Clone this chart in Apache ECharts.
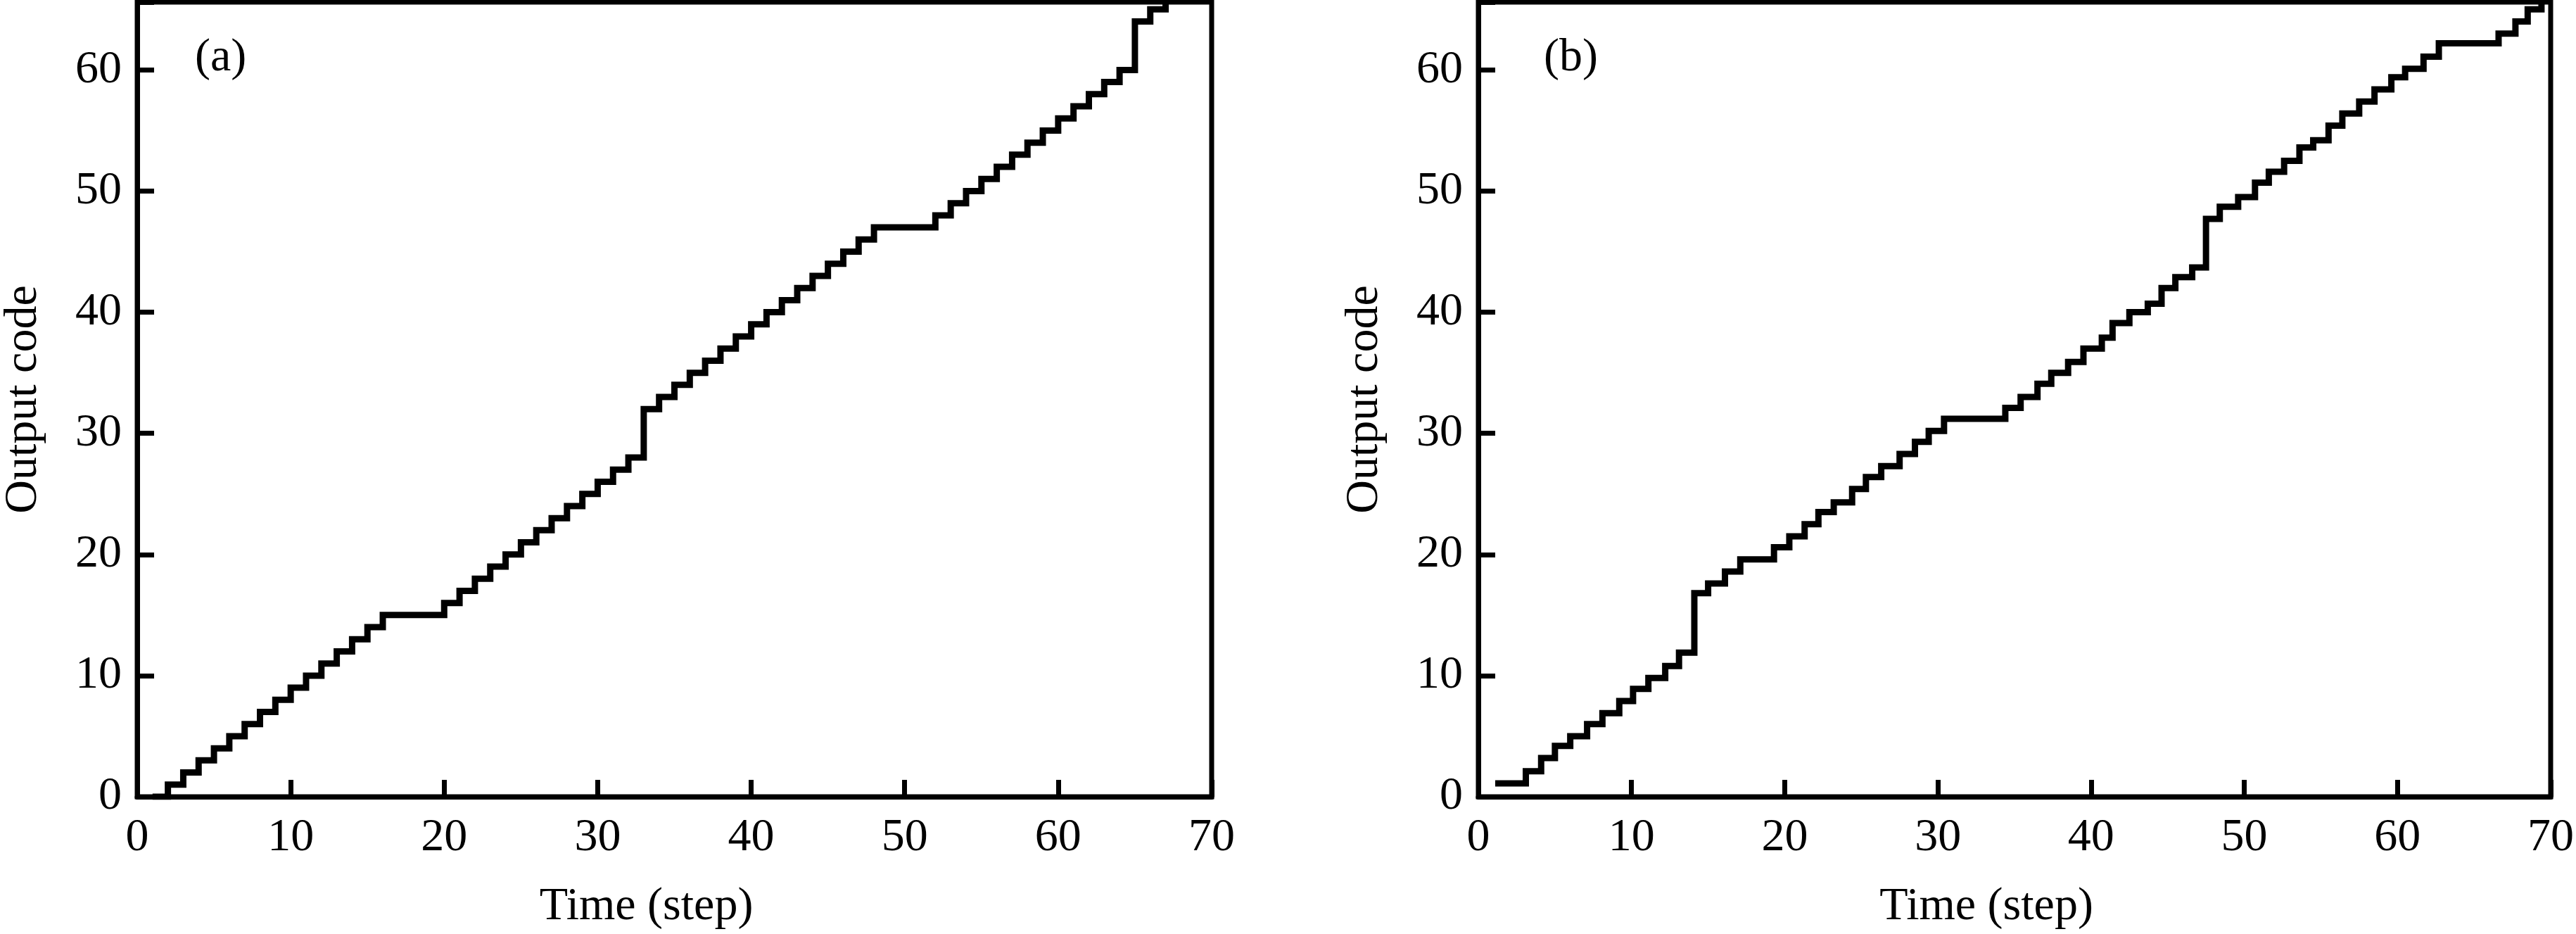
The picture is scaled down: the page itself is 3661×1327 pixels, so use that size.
<!DOCTYPE html>
<html>
<head>
<meta charset="utf-8">
<script src="https://cdn.jsdelivr.net/npm/echarts@6/dist/echarts.min.js"></script>
<style>
html,body{margin:0;padding:0;background:#ffffff;}
#chart{width:3661px;height:1327px;}
</style>
</head>
<body>
<div id="chart"></div>
<script>
// ---- data ----
const xTickValues = [0, 10, 20, 30, 40, 50, 60, 70];
const yTickValues = [0, 10, 20, 30, 40, 50, 60];
const panelNames = ['(a)', '(b)'];
const xAxisTitle = 'Time (step)';
const yAxisTitle = 'Output code';

// panel (a): time at which a new output code starts, and that code
const timeA = [1,2,3,4,5,6,7,8,9,10,11,12,13,14,15,16,
  20,21,22,23,24,25,26,27,28,29,30,31,32,
  33,34,35,36,37,38,39,40,41,42,43,44,45,46,47,48,
  52,53,54,55,56,57,58,59,60,61,62,63,64,
  65,66,67,68];
const codeA = [0,1,2,3,4,5,6,7,8,9,10,11,12,13,14,15,
  16,17,18,19,20,21,22,23,24,25,26,27,28,
  32,33,34,35,36,37,38,39,40,41,42,43,44,45,46,47,
  48,49,50,51,52,53,54,55,56,57,58,59,60,
  64,65,66,66];

// panel (b)
const timeB = [1.1,3.1,4.1,5.0,6.0,7.1,8.1,9.2,10.1,11.1,12.2,13.1,
  14.1,15.0,16.1,17.1,19.3,20.3,21.3,22.2,23.2,24.4,25.3,26.3,27.5,28.5,29.4,30.4,
  34.4,35.4,36.5,37.4,38.5,39.5,40.7,41.4,42.5,43.7,44.6,45.5,46.6,
  47.5,48.4,49.6,50.7,51.6,52.6,53.6,54.5,55.5,56.4,57.5,58.5,59.6,60.5,61.7,62.7,
  66.6,67.7,68.5,69.4,70.0];
const codeB = [1.1,2.1,3.2,4.2,5.0,6.0,6.9,7.9,8.9,9.8,10.8,11.9,
  16.8,17.6,18.6,19.6,20.6,21.5,22.5,23.5,24.3,25.4,26.4,27.3,28.3,29.3,30.2,31.2,
  32.1,33.0,34.1,35.0,35.9,37.0,37.9,39.1,40.0,40.7,42.0,42.9,43.7,
  47.7,48.7,49.5,50.7,51.6,52.5,53.6,54.2,55.4,56.4,57.4,58.4,59.4,60.1,61.1,62.2,
  63.0,64.0,65.0,66.0,66.0];

// ---- chart ----
const FONT = '"Liberation Serif", "Times New Roman", serif';
const FS = 66;
const X_MIN = xTickValues[0], X_MAX = xTickValues[xTickValues.length - 1];
const X_STEP = xTickValues[1] - xTickValues[0];
const Y_MIN = yTickValues[0], Y_STEP = yTickValues[1] - yTickValues[0];
const Y_MAX = 65.6;

function zip(t, c) { return t.map((v, i) => [v, c[i]]); }

const grids = [
  { left: 189, top: 3, width: 1533, height: 1130 },
  { left: 2101, top: 3, width: 1531, height: 1130 }
];

function makeX(i) {
  return {
    type: 'value', gridIndex: i, min: X_MIN, max: X_MAX, interval: X_STEP,
    axisLine: { show: true, onZero: false, lineStyle: { color: '#000', width: 7 } },
    axisTick: { show: true, inside: true, length: 24, lineStyle: { color: '#000', width: 7 } },
    axisLabel: { margin: 26, fontSize: FS, fontFamily: FONT, color: '#000' },
    splitLine: { show: false },
    name: xAxisTitle, nameLocation: 'middle', nameGap: 124,
    nameTextStyle: { fontSize: FS, fontFamily: FONT, color: '#000', padding: [0, 80, 0, 0] }
  };
}
function makeY(i) {
  return {
    type: 'value', gridIndex: i, min: Y_MIN, max: Y_MAX, interval: Y_STEP,
    axisLine: { show: true, onZero: false, lineStyle: { color: '#000', width: 7 } },
    axisTick: { show: true, inside: true, length: 24, lineStyle: { color: '#000', width: 7 } },
    axisLabel: {
      margin: 22, fontSize: FS, fontFamily: FONT, color: '#000',
      formatter: v => (yTickValues.indexOf(v) >= 0 ? String(v) : '')
    },
    splitLine: { show: false },
    name: yAxisTitle, nameLocation: 'middle', nameGap: 128,
    nameTextStyle: { fontSize: FS, fontFamily: FONT, color: '#000' }
  };
}
function makeSeries(i, t, c) {
  return {
    type: 'line', xAxisIndex: i, yAxisIndex: i, step: 'end',
    data: zip(t, c), symbol: 'none', clip: true,
    lineStyle: { color: '#000', width: 9, join: 'miter', cap: 'butt' }
  };
}

const chart = echarts.init(document.getElementById('chart'));
chart.setOption({
  backgroundColor: '#ffffff',
  animation: false,
  grid: grids.map(g => Object.assign({ show: true, borderColor: '#000', borderWidth: 7, backgroundColor: 'transparent' }, g)),
  xAxis: [makeX(0), makeX(1)],
  yAxis: [makeY(0), makeY(1)],
  series: [makeSeries(0, timeA, codeA), makeSeries(1, timeB, codeB)],
  graphic: [
    { type: 'text', left: 277, top: 50, style: { text: panelNames[0], font: FS + 'px ' + FONT, fill: '#000' } },
    { type: 'text', left: 2194, top: 50, style: { text: panelNames[1], font: FS + 'px ' + FONT, fill: '#000' } }
  ]
});
</script>
</body>
</html>
